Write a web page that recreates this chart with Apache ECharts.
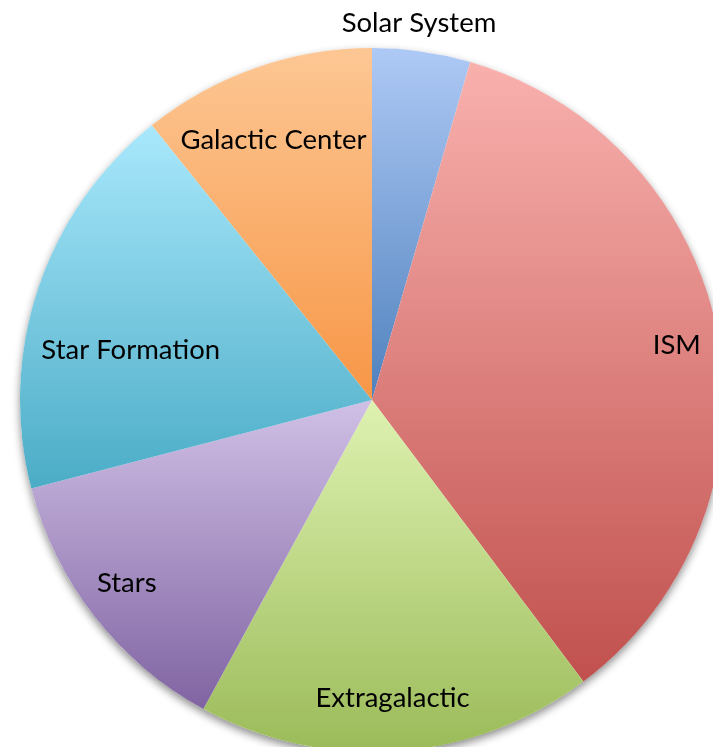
<!DOCTYPE html>
<html>
<head>
<meta charset="utf-8">
<script src="https://cdn.jsdelivr.net/npm/echarts@6/dist/echarts.min.js"></script>
<style>
  html, body { margin: 0; padding: 0; background: #ffffff; }
  #chart { width: 713px; height: 747px; }
</style>
</head>
<body>
<div id="chart"></div>
<script>
// Research areas and their shares (percent)
const categories = ['Solar System', 'ISM', 'Extragalactic', 'Stars', 'Star Formation', 'Galactic Center'];
const values = [4.5, 35.25, 18.2, 13.0, 18.3, 10.75];

// Vertical gradient per slice: light top, theme accent at bottom
const topColors = ['#aec9f5', '#f9b1ae', '#def2b1', '#d0c0e6', '#a9e8fc', '#fdc794'];
const bottomColors = ['#4f81bd', '#c0504d', '#9bbb59', '#8064a2', '#4bacc6', '#f79646'];

// Label placement: fraction of radius and small angular nudge (degrees)
const labelRadius = [1.08, 0.88, 0.85, 0.87, 0.70, 0.79];
const labelNudge = [-1.0, 0.1, 0.2, 1.2, -6.6, -1.4];

const CX = 372, CY = 400, R = 352;

const total = values.reduce((a, b) => a + b, 0);
const midAngles = [];
let acc = 0;
values.forEach(v => {
  const span = v / total * 360;
  midAngles.push(acc + span / 2);
  acc += span;
});

const chart = echarts.init(document.getElementById('chart'), null, { renderer: 'canvas' });

const pieData = categories.map((name, i) => ({
  name,
  value: values[i],
  itemStyle: {
    color: new echarts.graphic.LinearGradient(0, 0, 0, 1, [
      { offset: 0, color: topColors[i] },
      { offset: 1, color: bottomColors[i] }
    ])
  }
}));

chart.setOption({
  backgroundColor: '#ffffff',
  animation: false,
  series: [
    {
      // soft drop shadow behind the whole pie
      type: 'pie',
      silent: true,
      center: [CX, CY],
      radius: R,
      z: 1,
      label: { show: false },
      labelLine: { show: false },
      itemStyle: {
        color: '#ffffff',
        shadowBlur: 8,
        shadowOffsetY: 4,
        shadowColor: 'rgba(0,0,0,0.45)'
      },
      data: [{ value: 1, name: '' }]
    },
    {
      type: 'pie',
      center: [CX, CY],
      radius: R,
      startAngle: 90,
      clockwise: true,
      z: 2,
      avoidLabelOverlap: false,
      data: pieData,
      label: {
        show: true,
        position: 'inside',
        formatter: '{b}',
        color: '#000000',
        fontFamily: 'Lato',
        fontSize: 27.5
      },
      labelLine: { show: false },
      labelLayout: function (params) {
        const i = params.dataIndex;
        const a = (midAngles[i] + labelNudge[i]) * Math.PI / 180;
        const r = R * labelRadius[i];
        return {
          x: CX + r * Math.sin(a),
          y: CY - r * Math.cos(a),
          align: 'center',
          verticalAlign: 'middle'
        };
      }
    }
  ]
});
</script>
</body>
</html>
